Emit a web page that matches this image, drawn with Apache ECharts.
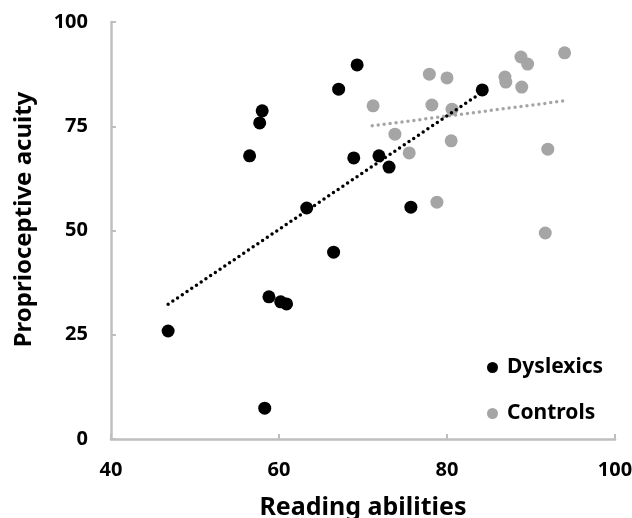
<!DOCTYPE html>
<html>
<head>
<meta charset="utf-8">
<script src="https://cdn.jsdelivr.net/npm/echarts@6/dist/echarts.min.js"></script>
<style>
html,body{margin:0;padding:0;background:#fff;}
#chart{width:632px;height:518px;}
</style>
</head>
<body>
<div id="chart"></div>
<script>
const seriesNames = ['Dyslexics', 'Controls'];
const dyslexicsX = [69.3, 67.1, 58.0, 57.7, 56.5, 68.9, 63.3, 84.2, 71.9, 73.1, 75.7, 46.8, 58.8, 60.2, 60.9, 66.5, 58.3];
const dyslexicsY = [89.7, 83.9, 78.7, 75.8, 67.9, 67.4, 55.4, 83.7, 67.9, 65.2, 55.6, 25.9, 34.1, 32.9, 32.4, 44.8, 7.4];
const controlsX = [71.2, 77.9, 80.0, 88.8, 89.6, 94.0, 86.9, 87.0, 88.9, 78.2, 80.6, 73.8, 75.5, 80.5, 92.0, 78.8, 91.7];
const controlsY = [79.9, 87.5, 86.6, 91.6, 89.9, 92.6, 86.8, 85.6, 84.4, 80.1, 79.1, 73.1, 68.6, 71.5, 69.5, 56.8, 49.4];
const dyslexicsTrendX = [46.8, 84.2];
const dyslexicsTrendY = [32.3, 83.2];
const controlsTrendX = [71.1, 94.0];
const controlsTrendY = [75.1, 81.1];
const xTicks = [40, 60, 80, 100];
const yTicks = [0, 25, 50, 75, 100];

const pairs = (xs, ys) => xs.map((x, i) => [x, ys[i]]);
const FONT = '"Noto Sans", "Open Sans", sans-serif';
const axisGray = '#bfbfbf';

const chart = echarts.init(document.getElementById('chart'), null, {renderer: 'canvas'});
chart.setOption({
  animation: false,
  backgroundColor: '#ffffff',
  grid: {left: 111, right: 17, top: 22, bottom: 79, containLabel: false, outerBoundsMode: 'none'},
  legend: {
    data: seriesNames,
    orient: 'vertical',
    left: 482,
    top: 352,
    icon: 'circle',
    itemWidth: 11,
    itemHeight: 11,
    itemGap: 25,
    itemStyle: {opacity: 1},
    textStyle: {fontFamily: FONT, fontWeight: 'bold', fontSize: 21, color: '#000', padding: [0, 0, 0, 4]}
  },
  xAxis: {
    type: 'value',
    min: xTicks[0], max: xTicks[xTicks.length - 1], interval: 20,
    name: 'Reading abilities',
    nameLocation: 'middle',
    nameGap: 56,
    nameTextStyle: {fontFamily: FONT, fontWeight: 'bold', fontSize: 25, color: '#000'},
    axisLine: {lineStyle: {color: axisGray, width: 2.5}},
    axisTick: {show: true, inside: true, length: 5, lineStyle: {color: axisGray, width: 2}},
    axisLabel: {fontFamily: FONT, fontWeight: 'bold', fontSize: 20, color: '#000', margin: 21},
    splitLine: {show: false}
  },
  yAxis: {
    type: 'value',
    min: yTicks[0], max: yTicks[yTicks.length - 1], interval: 25,
    name: 'Proprioceptive acuity',
    nameLocation: 'middle',
    nameGap: 75,
    nameTextStyle: {fontFamily: FONT, fontWeight: 'bold', fontSize: 24, color: '#000', padding: [0, 0, 0, 22]},
    axisLine: {show: true, lineStyle: {color: axisGray, width: 2.5}},
    axisTick: {show: true, inside: true, length: 5, lineStyle: {color: axisGray, width: 2}},
    axisLabel: {fontFamily: FONT, fontWeight: 'bold', fontSize: 20, color: '#000', margin: 23},
    splitLine: {show: false}
  },
  series: [
    {
      name: seriesNames[0], type: 'scatter', symbol: 'circle', symbolSize: 13,
      itemStyle: {color: '#000000', opacity: 1},
      data: pairs(dyslexicsX, dyslexicsY), z: 2
    },
    {
      name: seriesNames[1], type: 'scatter', symbol: 'circle', symbolSize: 13,
      itemStyle: {color: '#a5a5a5', opacity: 1},
      data: pairs(controlsX, controlsY), z: 2
    },
    {
      name: 'Controls trend', type: 'line', showSymbol: false, symbol: 'none',
      lineStyle: {color: '#a5a5a5', width: 3.5, type: [0, 6], cap: 'round'},
      data: pairs(controlsTrendX, controlsTrendY), z: 3, silent: true
    },
    {
      name: 'Dyslexics trend', type: 'line', showSymbol: false, symbol: 'none',
      lineStyle: {color: '#000000', width: 3.5, type: [0, 5.7], cap: 'round'},
      data: pairs(dyslexicsTrendX, dyslexicsTrendY), z: 4, silent: true
    }
  ]
});
</script>
</body>
</html>
